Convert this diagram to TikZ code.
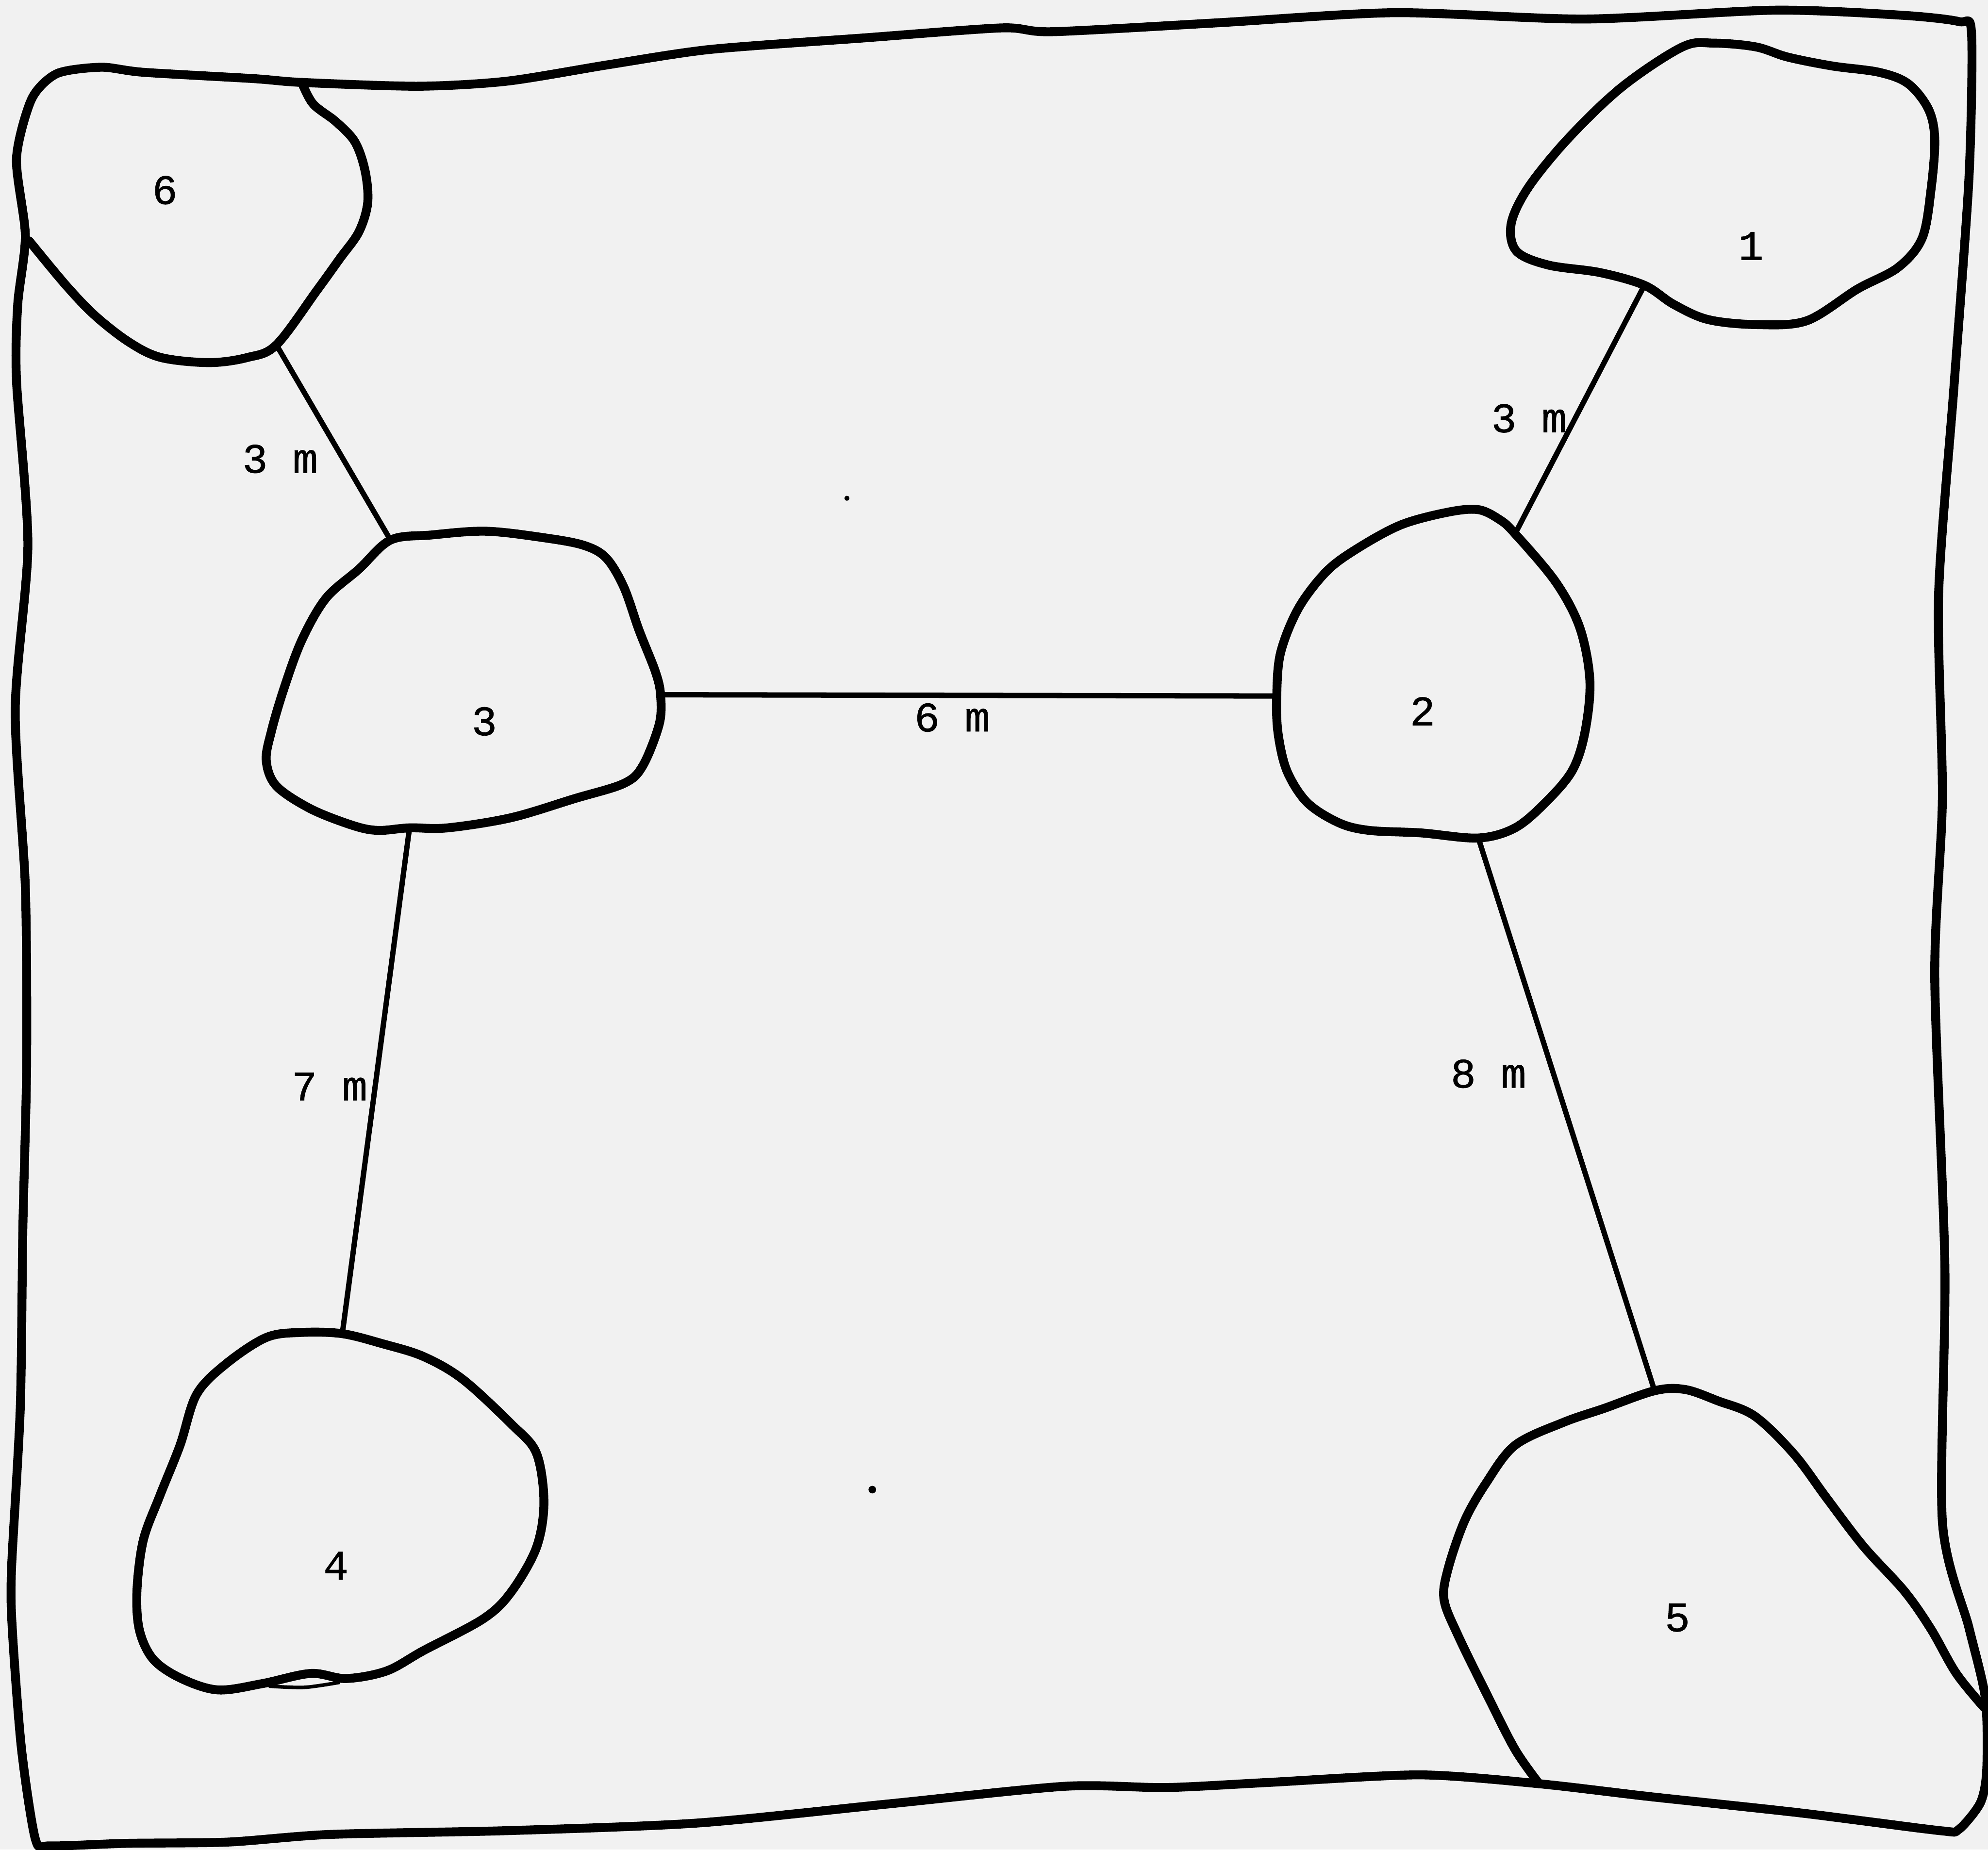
\documentclass[tikz,border=0pt]{standalone}
\usepackage{fontspec}
\newfontfamily\typefont[FakeBold=1]{Liberation Mono}
\usetikzlibrary{calc}
\definecolor{paper}{RGB}{241,241,241}
\tikzset{
  rim/.style={line width=2pt, line join=round, line cap=round},
  link/.style={line width=1.2pt, line cap=round},
  tag/.style={font=\typefont\fontsize{9.4}{11}\selectfont, inner sep=0pt},
}

\begin{document}
\begin{tikzpicture}[x=0.01cm, y=-0.01cm]
    % paper
    \path[fill=paper](0,0)rectangle(1568,1459);
    \useasboundingbox(0,0)rectangle(1568,1459);
    % frame
    \path[draw, rim]plot[smooth cycle, tension=0.45]coordinates{
      (45,58) (80,53) (113,57) (200,62) (238,65) (330,68) (400,64) (480,51)
      (560,39) (680,30) (790,22) (830,25) (960,18) (1100,10) (1250,15)
      (1400,8) (1500,12) (1545,17) (1555,26) (1553,140) (1541,307)
      (1529,470) (1532,630) (1526,770) (1534,1000) (1532,1200)
      (1553,1284) (1566,1340) (1567,1396) (1562,1422) (1545,1443)
      (1530,1444) (1420,1430) (1300,1417) (1214,1407) (1120,1400)
      (1000,1406) (920,1410) (840,1409) (700,1423) (550,1438) (400,1444)
      (260,1447) (180,1453) (100,1454) (40,1456) (28,1451) (17,1380)
      (10,1290) (9,1240) (16,1110) (18,970) (21,840) (20,700) (12,560)
      (22,430) (13,300) (14,240) (20,186) (13,125) (25,78)};
    % pools
    \path[draw, rim]plot[smooth cycle, tension=0.55]coordinates{
      (1327,37) (1352,34) (1385,37) (1410,45) (1445,52) (1482,57)
      (1505,66) (1521,86) (1526,110) (1523,150) (1516,188) (1497,211)
      (1465,228) (1425,253) (1385,256) (1347,252) (1320,240) (1297,225)
      (1262,215) (1221,209) (1196,198) (1192,176) (1206,147) (1238,108)
      (1280,68)};
    \path[draw, rim]plot[smooth cycle, tension=0.55]coordinates{
      (1195,421) (1227,459) (1246,495) (1254,537) (1250,578) (1240,608)
      (1219,633) (1195,653) (1166,661) (1121,657) (1080,655) (1056,649)
      (1031,633) (1015,608) (1008,578) (1007,549) (1010,515) (1024,480)
      (1046,451) (1070,433) (1105,414) (1142,404) (1166,402) (1183,410)};
    \path[draw, rim]plot[smooth cycle, tension=0.55]coordinates{
      (308,426) (340,422) (383,419) (428,424) (460,430) (478,440) (492,463)
      (504,497) (517,530) (521,548) (520,571) (507,604) (492,618) (453,630)
      (403,645) (353,653) (323,653) (298,655) (278,651) (245,638) (218,620)
      (210,600) (214,577) (224,543) (238,505) (257,472) (283,449)};
    \path[draw, rim]plot[smooth cycle, tension=0.55]coordinates{
      (270,1052) (302,1060) (334,1070) (365,1088) (403,1123) (423,1146)
      (429,1185) (423,1221) (403,1256) (381,1277) (334,1302) (305,1318)
      (273,1324) (245,1320) (207,1328) (172,1333) (143,1324) (121,1309)
      (110,1286) (108,1255) (113,1215) (126,1180) (142,1140) (155,1100)
      (178,1076) (210,1055) (238,1051)};
    \path[draw, line width=0.8pt]plot[smooth, tension=0.5]coordinates{
      (212,1330) (240,1331) (268,1327)};
    \path[draw, rim]plot[smooth, tension=0.55]coordinates{
      (1214,1407) (1195,1380) (1173,1337) (1150,1290) (1139,1262)
      (1142,1238) (1155,1200) (1172,1170) (1195,1140) (1233,1122)
      (1265,1111) (1305,1097) (1329,1096) (1355,1105) (1384,1117)
      (1415,1147) (1441,1182) (1470,1220) (1502,1255) (1523,1285)
      (1543,1320) (1565,1347)};
    \path[draw, rim]plot[smooth, tension=0.55]coordinates{
      (238,65) (247,82) (265,96) (280,112) (288,135) (290,160) (283,183)
      (268,204) (250,229) (218,272) (195,282) (165,286) (127,282)
      (102,270) (75,249) (52,225) (23,190)};
    % joints
    \coordinate(j1)at(1297,225);
    \coordinate(j2a)at(1007,549);
    \coordinate(j2b)at(1195,421);
    \coordinate(j2c)at(1166,661);
    \coordinate(j3a)at(308,426);
    \coordinate(j3b)at(521,548);
    \coordinate(j3c)at(323,653);
    \coordinate(j4)at(270,1052);
    \coordinate(j5)at(1305,1097);
    \coordinate(j6)at(218,272);
    % links
    \path[draw, link](j6)to(j3a);
    \path[draw, link](j3b)to(j2a);
    \path[draw, link](j2b)to(j1);
    \path[draw, link](j3c)to(j4);
    \path[draw, link](j2c)to(j5);
    % numbers
    \node[tag](n1)at(1381,194){1};
    \node[tag](n2)at(1122,561){2};
    \node[tag](n3)at(382,569){3};
    \node[tag](n4)at(265,1235){4};
    \node[tag](n5)at(1323,1276){5};
    \node[tag](n6)at(130,150){6};
    % distances
    \node[tag](d63)at(221,362){3 m};
    \node[tag](d12)at(1206,330){3 m};
    \node[tag](d32)at(751,566){6 m};
    \node[tag](d34)at(260,857){7 m};
    \node[tag](d25)at(1174,847){8 m};
    % specks
    \path[fill](668,393)circle(2);
    \path[fill](688,1175)circle(3);
\end{tikzpicture}
\end{document}
